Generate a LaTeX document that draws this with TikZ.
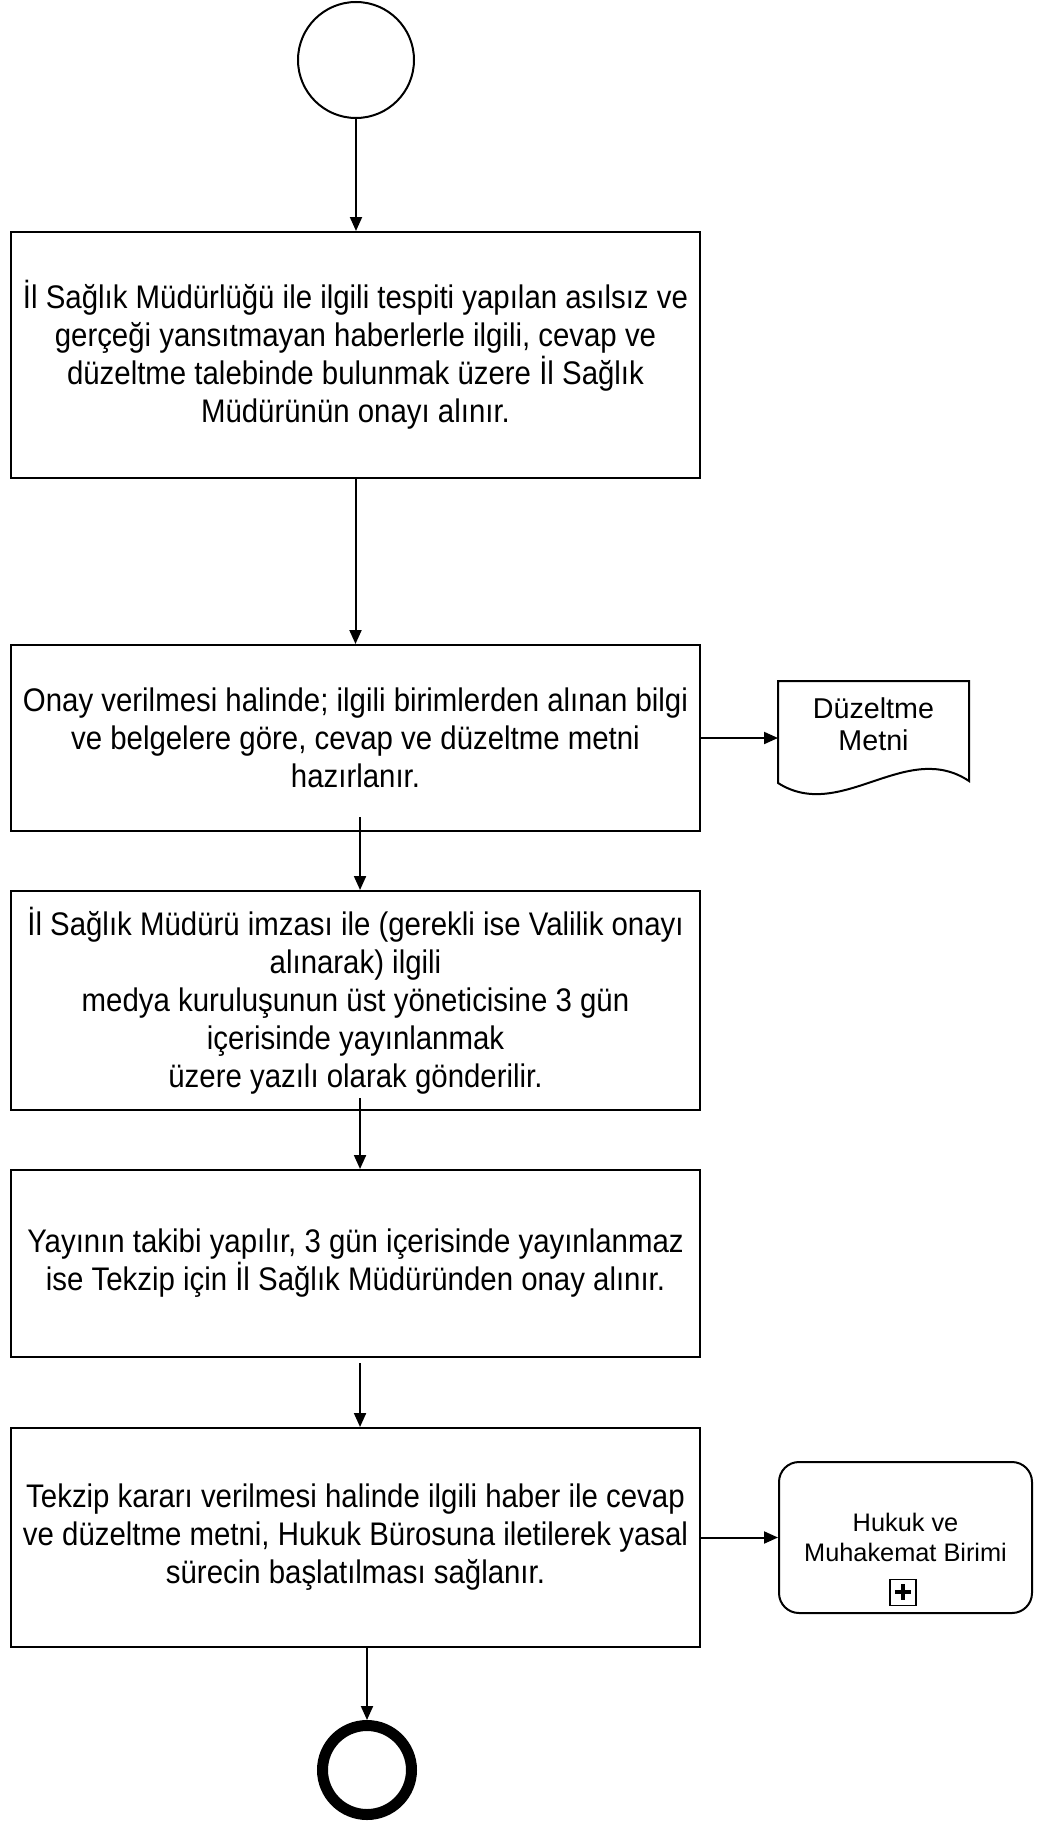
\documentclass[tikz,border=0pt]{standalone}
\usepackage{fontspec}
\setmainfont{Liberation Sans}[FakeStretch=0.9]
\newfontfamily\docfont{Liberation Sans}
\usetikzlibrary{arrows.meta, positioning, calc}

\begin{document}
\begin{tikzpicture}[x=0.75pt, y=-0.75pt, line width=1.5pt,
		task/.style={draw, rectangle, minimum width=516.75pt, inner sep=0pt, align=center, font=\fontsize{24.5}{28.5}\selectfont},
		arr/.style={-{Triangle[length=10.5pt, width=9pt]}}]
		\useasboundingbox (0,0) rectangle (1040,1823);
		\node[draw, circle, minimum size=87pt] (a0) at (356,60) {};
		\node[task, minimum height=184.5pt] (a1) at (355.5,355) {İl Sağlık Müdürlüğü ile ilgili tespiti yapılan asılsız ve\\gerçeği yansıtmayan haberlerle ilgili, cevap ve\\düzeltme talebinde bulunmak üzere İl Sağlık\\Müdürünün onayı alınır.};
		\node[task, minimum height=139.5pt] (a2) at (355.5,738) {Onay verilmesi halinde; ilgili birimlerden alınan bilgi\\ve belgelere göre, cevap ve düzeltme metni\\hazırlanır.};
		\node[task, minimum height=164.25pt] (a3) at (355.5,1000.5) {İl Sağlık Müdürü imzası ile (gerekli ise Valilik onayı\\alınarak) ilgili\\medya kuruluşunun üst yöneticisine 3 gün\\içerisinde yayınlanmak\\üzere yazılı olarak gönderilir.};
		\node[task, minimum height=140.25pt] (a4) at (355.5,1263.5) {Yayının takibi yapılır, 3 gün içerisinde yayınlanmaz\\ise Tekzip için İl Sağlık Müdüründen onay alınır.};
		\node[task, minimum height=164.25pt] (a5) at (355.5,1537.5) {Tekzip kararı verilmesi halinde ilgili haber ile cevap\\ve düzeltme metni, Hukuk Bürosuna iletilerek yasal\\sürecin başlatılması sağlanır.};
		\node[draw, circle, line width=8.25pt, minimum size=66.75pt] (a6) at (367,1770) {};
		\node[minimum width=141.75pt, minimum height=63pt, inner sep=0pt, align=center, font=\docfont\fontsize{21.5}{24}\selectfont] (d1) at (873.5,724) {Düzeltme\\Metni};
		\node[draw, rounded corners=15pt, minimum width=189.75pt, minimum height=113.25pt, inner sep=0pt, align=center, font=\docfont\fontsize{19}{22.5}\selectfont] (p1) at (905.5,1537.5) {Hukuk ve\\Muhakemat Birimi};
		\node[draw, line width=1.1pt, minimum size=19.5pt, inner sep=0pt, above=6pt of p1.south, xshift=-2pt] (m1) {};
		
		\draw (d1.north west) -- (d1.north east) -- ($(d1.south east)+(0,14)$) .. controls +(-63,-42) and +(63,40) .. ($(d1.south west)+(0,16)$) -- cycle;
		\draw[line width=3.2pt] ($(m1.center)+(-8,0)$) -- ($(m1.center)+(8,0)$);
		\draw[line width=3.2pt] ($(m1.center)+(0,-8)$) -- ($(m1.center)+(0,8)$);
		
		\draw (a0) edge[arr] (a0 |- a1.north);
		\draw (a1) edge[arr] (a1.south |- a2.north);
		\draw ([xshift=3.4pt, yshift=11.25pt]a2.south) edge[arr] ([xshift=3.4pt]a3.north);
		\draw ([xshift=3.4pt, yshift=9.75pt]a3.south) edge[arr] ([xshift=3.4pt]a4.north);
		\draw ([xshift=3.4pt, yshift=-3.75pt]a4.south) edge[arr] ([xshift=3.4pt]a5.north);
		\draw (a5.south -| a6.north) edge[arr] (a6.north);
		\draw (a2.east) edge[arr] (a2.east -| d1.west);
		\draw (a5.east) edge[arr] (p1.west);
	\end{tikzpicture}
\end{document}
